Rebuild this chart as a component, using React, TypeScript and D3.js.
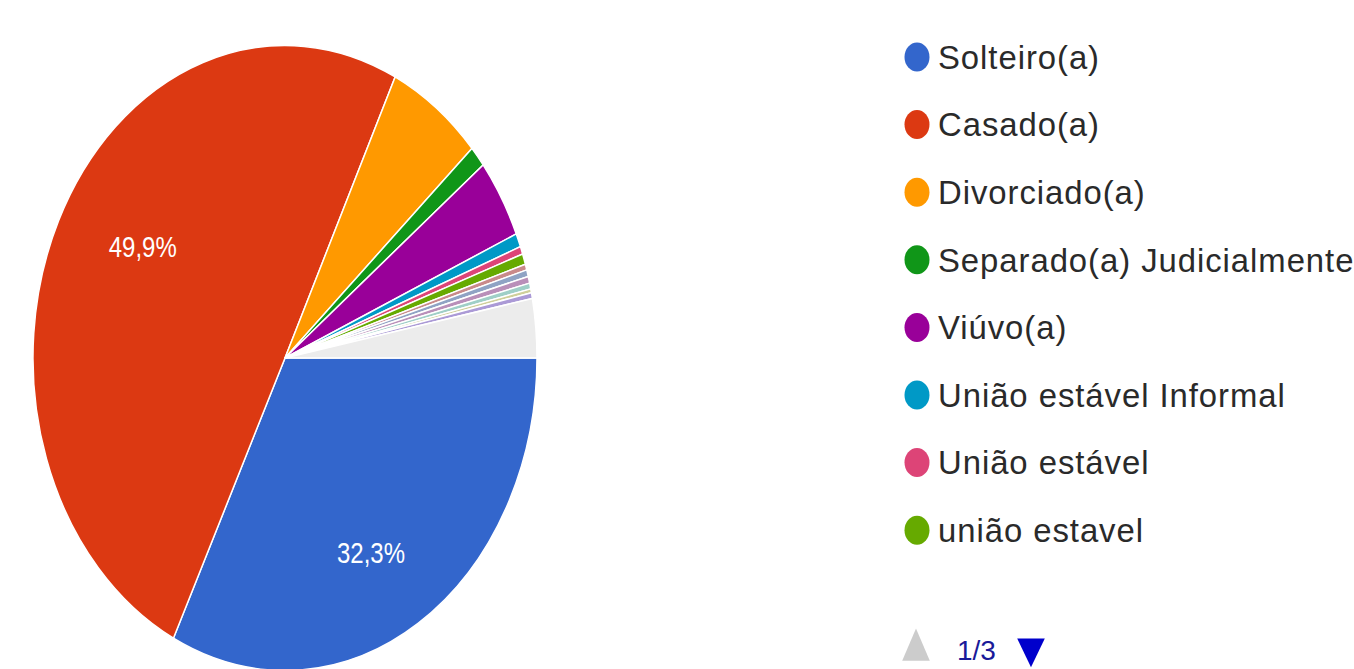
import React from 'react';
import * as d3 from 'd3';

const categories = [
  'Solteiro(a)',
  'Casado(a)',
  'Divorciado(a)',
  'Separado(a) Judicialmente',
  'Viúvo(a)',
  'União estável Informal',
  'União estável',
  'união estavel',
  'Outro 9',
  'Outro 10',
  'Outro 11',
  'Outro 12',
  'Outro 13',
  'Outro 14',
  'Outros',
];
const values = [32.3, 49.9, 6.1, 1.1, 4.1, 0.7, 0.4, 0.55, 0.3, 0.35, 0.35, 0.3, 0.2, 0.3, 3.05];
const colors = [
  '#3366cc', '#dc3912', '#ff9900', '#109618', '#990099', '#0099c6', '#dd4477', '#66aa00',
  '#c98a8a', '#8fa3c4', '#b98fb9', '#9fcfc7', '#cfcf9a', '#ab9ad6', '#ececec',
];
const legendCount = 8;
const pageLabel = '1/3';

const W = 1354;
const H = 669;
const cx = 285;
const cy = 358;
const R = 252;
const ky = 1.24;

export default function App() {
  const data = categories.map((c, i) => ({ name: c, value: values[i], color: colors[i] }));
  const pie = d3.pie<any>().sort(null).value((d: any) => d.value)
    .startAngle(Math.PI / 2).endAngle(Math.PI / 2 + 2 * Math.PI);
  const arcs = pie(data);
  const arc = d3.arc<any>().innerRadius(0).outerRadius(R);
  const fmt = (v: number) => v.toFixed(1).replace('.', ',') + '%';

  const legendY = d3.scaleLinear().domain([0, 1]).range([57, 57 + 67.6]);

  return (
    <svg width={W} height={H} style={{ position: 'absolute', left: 0, top: 0, background: '#fff' }}
      fontFamily="'Liberation Sans', Arial, sans-serif">
      <g transform={`translate(${cx},${cy}) scale(1,${ky})`}>
        {arcs.map((a, i) => (
          <path key={i} d={arc(a) as string} fill={a.data.color} stroke="#fff" strokeWidth={1.5}
            vectorEffect="non-scaling-stroke" />
        ))}
        {arcs.filter(a => a.data.value > 10).map((a, i) => {
          const mid = (a.startAngle + a.endAngle) / 2 + 0.07;
          const r = R * 0.68;
          const x = Math.sin(mid) * r + 6;
          const y = -Math.cos(mid) * r * 1.04;
          return (
            <text key={i} x={x} y={y} fill="#fff" fontSize={24} textAnchor="middle"
              dominantBaseline="central">{fmt(a.data.value)}</text>
          );
        })}
      </g>
      <g>
        {data.slice(0, legendCount).map((d, i) => (
          <g key={i} transform={`translate(0,${legendY(i)})`}>
            <ellipse cx={917} cy={0} rx={12.5} ry={14.5} fill={d.color} />
            <text transform="translate(938,0) scale(1.06,1.1)" x={0} y={0} fontSize={31} fill="#2a2a2a"
              dominantBaseline="central" letterSpacing={0.9}>{d.name}</text>
          </g>
        ))}
      </g>
      <g transform={`translate(0,${650})`}>
        <path d={d3.symbol().type(d3.symbolTriangle).size(330)() as string}
          transform="translate(916,0) scale(1,1.35)" fill="#cccccc" />
        <text x={957} y={0} fontSize={28} fill="#1a1a99" dominantBaseline="central">{pageLabel}</text>
        <path d={d3.symbol().type(d3.symbolTriangle).size(330)() as string}
          transform="translate(1031,-2) rotate(180) scale(1,1.2)" fill="#0000cc" />
      </g>
    </svg>
  );
}
